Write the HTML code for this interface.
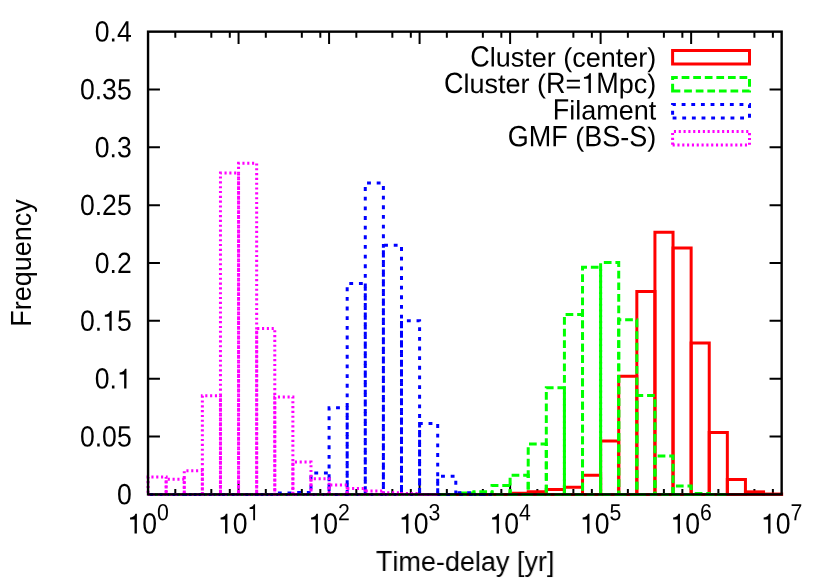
<!DOCTYPE html>
<html><head><meta charset="utf-8"><title>Time-delay histogram</title>
<style>
html,body{margin:0;padding:0;background:#fff;}
svg{display:block;}
text{font-family:"Liberation Sans",sans-serif;fill:#000;font-kerning:none;}
</style></head><body>
<svg width="830" height="581" viewBox="0 0 830 581">
<rect x="0" y="0" width="830" height="581" fill="#ffffff"/>
<path d="M175.30 494.4V489.1M175.30 31.65V37.85M211.32 494.4V489.1M211.32 31.65V37.85M229.79 494.4V489.1M229.79 31.65V37.85M238.56 494.4V483.1M238.56 31.65V43.9M265.81 494.4V489.1M265.81 31.65V37.85M301.83 494.4V489.1M301.83 31.65V37.85M320.31 494.4V489.1M320.31 31.65V37.85M329.08 494.4V483.1M329.08 31.65V43.9M356.33 494.4V489.1M356.33 31.65V37.85M392.35 494.4V489.1M392.35 31.65V37.85M410.82 494.4V489.1M410.82 31.65V37.85M419.59 494.4V483.1M419.59 31.65V43.9M446.84 494.4V489.1M446.84 31.65V37.85M482.86 494.4V489.1M482.86 31.65V37.85M501.34 494.4V489.1M501.34 31.65V37.85M510.11 494.4V483.1M510.11 31.65V43.9M537.35 494.4V489.1M537.35 31.65V37.85M573.37 494.4V489.1M573.37 31.65V37.85M591.85 494.4V489.1M591.85 31.65V37.85M600.62 494.4V483.1M600.62 31.65V43.9M627.87 494.4V489.1M627.87 31.65V37.85M663.89 494.4V489.1M663.89 31.65V37.85M682.36 494.4V489.1M682.36 31.65V37.85M691.14 494.4V483.1M691.14 31.65V43.9M718.38 494.4V489.1M718.38 31.65V37.85M754.40 494.4V489.1M754.40 31.65V37.85M772.88 494.4V489.1M772.88 31.65V37.85M148.05 436.56H159.95M781.65 436.56H769.55M148.05 378.71H159.95M781.65 378.71H769.55M148.05 320.87H159.95M781.65 320.87H769.55M148.05 263.02H159.95M781.65 263.02H769.55M148.05 205.18H159.95M781.65 205.18H769.55M148.05 147.34H159.95M781.65 147.34H769.55M148.05 89.49H159.95M781.65 89.49H769.55" fill="none" stroke="#000" stroke-width="2"/>
<g fill="none" stroke="#ff0000" stroke-width="3" stroke-linejoin="miter" stroke-linecap="butt">
<path d="M148.05 494.40L166.15 494.40L166.15 494.40L148.05 494.40Z"/>
<path d="M166.15 494.40L184.26 494.40L184.26 494.40L166.15 494.40Z"/>
<path d="M184.26 494.40L202.36 494.40L202.36 494.40L184.26 494.40Z"/>
<path d="M202.36 494.40L220.46 494.40L220.46 494.40L202.36 494.40Z"/>
<path d="M220.46 494.40L238.56 494.40L238.56 494.40L220.46 494.40Z"/>
<path d="M238.56 494.40L256.67 494.40L256.67 494.40L238.56 494.40Z"/>
<path d="M256.67 494.40L274.77 494.40L274.77 494.40L256.67 494.40Z"/>
<path d="M274.77 494.40L292.87 494.40L292.87 494.40L274.77 494.40Z"/>
<path d="M292.87 494.40L310.98 494.40L310.98 494.40L292.87 494.40Z"/>
<path d="M310.98 494.40L329.08 494.40L329.08 494.40L310.98 494.40Z"/>
<path d="M329.08 494.40L347.18 494.40L347.18 494.40L329.08 494.40Z"/>
<path d="M347.18 494.40L365.28 494.40L365.28 494.40L347.18 494.40Z"/>
<path d="M365.28 494.40L383.39 494.40L383.39 494.40L365.28 494.40Z"/>
<path d="M383.39 494.40L401.49 494.40L401.49 494.40L383.39 494.40Z"/>
<path d="M401.49 494.40L419.59 494.40L419.59 494.40L401.49 494.40Z"/>
<path d="M419.59 494.40L437.70 494.40L437.70 494.40L419.59 494.40Z"/>
<path d="M437.70 494.40L455.80 494.40L455.80 494.40L437.70 494.40Z"/>
<path d="M455.80 494.40L473.90 494.40L473.90 494.40L455.80 494.40Z"/>
<path d="M473.90 494.40L492.00 494.40L492.00 494.40L473.90 494.40Z"/>
<path d="M492.00 494.40L510.11 494.40L510.11 494.40L492.00 494.40Z"/>
<path d="M510.11 494.40L528.21 494.40L528.21 493.24L510.11 493.24Z"/>
<path d="M528.21 494.40L546.31 494.40L546.31 491.74L528.21 491.74Z"/>
<path d="M546.31 494.40L564.42 494.40L564.42 489.43L546.31 489.43Z"/>
<path d="M564.42 494.40L582.52 494.40L582.52 487.23L564.42 487.23Z"/>
<path d="M582.52 494.40L600.62 494.40L600.62 475.31L582.52 475.31Z"/>
<path d="M600.62 494.40L618.72 494.40L618.72 440.95L600.62 440.95Z"/>
<path d="M618.72 494.40L636.83 494.40L636.83 376.17L618.72 376.17Z"/>
<path d="M636.83 494.40L654.93 494.40L654.93 291.48L636.83 291.48Z"/>
<path d="M654.93 494.40L673.03 494.40L673.03 232.37L654.93 232.37Z"/>
<path d="M673.03 494.40L691.14 494.40L691.14 248.10L673.03 248.10Z"/>
<path d="M691.14 494.40L709.24 494.40L709.24 343.08L691.14 343.08Z"/>
<path d="M709.24 494.40L727.34 494.40L727.34 432.51L709.24 432.51Z"/>
<path d="M727.34 494.40L745.44 494.40L745.44 479.59L727.34 479.59Z"/>
<path d="M745.44 494.40L763.55 494.40L763.55 491.85L745.44 491.85Z"/>
<path d="M763.55 494.40L781.65 494.40L781.65 494.05L763.55 494.05Z"/>
</g>
<g fill="none" stroke="#00ff00" stroke-width="3" stroke-linejoin="miter" stroke-linecap="butt" stroke-dasharray="7.72 3.86">
<path stroke-dashoffset="0.00" d="M148.05 494.40L166.15 494.40L166.15 494.40L148.05 494.40Z"/>
<path stroke-dashoffset="11.31" d="M166.15 494.40L184.26 494.40L184.26 494.40L166.15 494.40Z"/>
<path stroke-dashoffset="0.00" d="M184.26 494.40L202.36 494.40L202.36 494.40L184.26 494.40Z"/>
<path stroke-dashoffset="11.31" d="M202.36 494.40L220.46 494.40L220.46 494.40L202.36 494.40Z"/>
<path stroke-dashoffset="0.00" d="M220.46 494.40L238.56 494.40L238.56 494.40L220.46 494.40Z"/>
<path stroke-dashoffset="11.31" d="M238.56 494.40L256.67 494.40L256.67 494.40L238.56 494.40Z"/>
<path stroke-dashoffset="0.00" d="M256.67 494.40L274.77 494.40L274.77 494.40L256.67 494.40Z"/>
<path stroke-dashoffset="11.31" d="M274.77 494.40L292.87 494.40L292.87 494.40L274.77 494.40Z"/>
<path stroke-dashoffset="0.00" d="M292.87 494.40L310.98 494.40L310.98 494.40L292.87 494.40Z"/>
<path stroke-dashoffset="11.31" d="M310.98 494.40L329.08 494.40L329.08 494.40L310.98 494.40Z"/>
<path stroke-dashoffset="0.00" d="M329.08 494.40L347.18 494.40L347.18 494.40L329.08 494.40Z"/>
<path stroke-dashoffset="11.31" d="M347.18 494.40L365.28 494.40L365.28 494.40L347.18 494.40Z"/>
<path stroke-dashoffset="0.00" d="M365.28 494.40L383.39 494.40L383.39 494.40L365.28 494.40Z"/>
<path stroke-dashoffset="11.31" d="M383.39 494.40L401.49 494.40L401.49 494.40L383.39 494.40Z"/>
<path stroke-dashoffset="0.00" d="M401.49 494.40L419.59 494.40L419.59 494.40L401.49 494.40Z"/>
<path stroke-dashoffset="11.31" d="M419.59 494.40L437.70 494.40L437.70 494.40L419.59 494.40Z"/>
<path stroke-dashoffset="0.00" d="M437.70 494.40L455.80 494.40L455.80 494.40L437.70 494.40Z"/>
<path stroke-dashoffset="8.53" d="M455.80 494.40L473.90 494.40L473.90 493.01L455.80 493.01Z"/>
<path stroke-dashoffset="9.03" d="M473.90 494.40L492.00 494.40L492.00 491.74L473.90 491.74Z"/>
<path stroke-dashoffset="7.62" d="M492.00 494.40L510.11 494.40L510.11 485.49L492.00 485.49Z"/>
<path stroke-dashoffset="0.25" d="M510.11 494.40L528.21 494.40L528.21 475.31L510.11 475.31Z"/>
<path stroke-dashoffset="3.05" d="M528.21 494.40L546.31 494.40L546.31 444.08L528.21 444.08Z"/>
<path stroke-dashoffset="3.37" d="M546.31 494.40L564.42 494.40L564.42 387.74L546.31 387.74Z"/>
<path stroke-dashoffset="1.11" d="M564.42 494.40L582.52 494.40L582.52 314.39L564.42 314.39Z"/>
<path stroke-dashoffset="7.40" d="M582.52 494.40L600.62 494.40L600.62 267.19L582.52 267.19Z"/>
<path stroke-dashoffset="9.22" d="M600.62 494.40L618.72 494.40L618.72 262.56L600.62 262.56Z"/>
<path stroke-dashoffset="0.11" d="M618.72 494.40L636.83 494.40L636.83 319.71L618.72 319.71Z"/>
<path stroke-dashoffset="10.23" d="M636.83 494.40L654.93 494.40L654.93 395.49L636.83 395.49Z"/>
<path stroke-dashoffset="5.32" d="M654.93 494.40L673.03 494.40L673.03 455.99L654.93 455.99Z"/>
<path stroke-dashoffset="0.68" d="M673.03 494.40L691.14 494.40L691.14 485.95L673.03 485.95Z"/>
<path stroke-dashoffset="9.01" d="M691.14 494.40L709.24 494.40L709.24 493.59L691.14 493.59Z"/>
<path stroke-dashoffset="2.30" d="M709.24 494.40L727.34 494.40L727.34 494.40L709.24 494.40Z"/>
</g>
<g fill="none" stroke="#0000ff" stroke-width="3" stroke-linejoin="miter" stroke-linecap="butt" stroke-dasharray="3.86 5.79">
<path stroke-dashoffset="0.00" d="M148.05 494.40L166.15 494.40L166.15 494.40L148.05 494.40Z"/>
<path stroke-dashoffset="1.10" d="M166.15 494.40L184.26 494.40L184.26 494.40L166.15 494.40Z"/>
<path stroke-dashoffset="0.00" d="M184.26 494.40L202.36 494.40L202.36 494.40L184.26 494.40Z"/>
<path stroke-dashoffset="1.10" d="M202.36 494.40L220.46 494.40L220.46 494.40L202.36 494.40Z"/>
<path stroke-dashoffset="0.00" d="M220.46 494.40L238.56 494.40L238.56 494.40L220.46 494.40Z"/>
<path stroke-dashoffset="1.10" d="M238.56 494.40L256.67 494.40L256.67 494.40L238.56 494.40Z"/>
<path stroke-dashoffset="0.00" d="M256.67 494.40L274.77 494.40L274.77 494.40L256.67 494.40Z"/>
<path stroke-dashoffset="7.97" d="M274.77 494.40L292.87 494.40L292.87 493.01L274.77 493.01Z"/>
<path stroke-dashoffset="8.72" d="M292.87 494.40L310.98 494.40L310.98 492.55L292.87 492.55Z"/>
<path stroke-dashoffset="7.47" d="M310.98 494.40L329.08 494.40L329.08 473.00L310.98 473.00Z"/>
<path stroke-dashoffset="3.91" d="M329.08 494.40L347.18 494.40L347.18 407.87L329.08 407.87Z"/>
<path stroke-dashoffset="0.23" d="M347.18 494.40L365.28 494.40L365.28 283.62L347.18 283.62Z"/>
<path stroke-dashoffset="5.50" d="M365.28 494.40L383.39 494.40L383.39 183.08L365.28 183.08Z"/>
<path stroke-dashoffset="8.67" d="M383.39 494.40L401.49 494.40L401.49 245.21L383.39 245.21Z"/>
<path stroke-dashoffset="1.95" d="M401.49 494.40L419.59 494.40L419.59 320.64L401.49 320.64Z"/>
<path stroke-dashoffset="2.30" d="M419.59 494.40L437.70 494.40L437.70 423.60L419.59 423.60Z"/>
<path stroke-dashoffset="1.08" d="M437.70 494.40L455.80 494.40L455.80 476.24L437.70 476.24Z"/>
<path stroke-dashoffset="6.20" d="M455.80 494.40L473.90 494.40L473.90 492.66L455.80 492.66Z"/>
<path stroke-dashoffset="4.55" d="M473.90 494.40L492.00 494.40L492.00 494.40L473.90 494.40Z"/>
</g>
<g fill="none" stroke="#ff00ff" stroke-width="3" stroke-linejoin="miter" stroke-linecap="butt" stroke-dasharray="2.12 2.70">
<path stroke-dashoffset="0.00" d="M148.05 494.40L166.15 494.40L166.15 476.93L148.05 476.93Z"/>
<path stroke-dashoffset="0.53" d="M166.15 494.40L184.26 494.40L184.26 479.24L166.15 479.24Z"/>
<path stroke-dashoffset="2.18" d="M184.26 494.40L202.36 494.40L202.36 470.68L184.26 470.68Z"/>
<path stroke-dashoffset="0.40" d="M202.36 494.40L220.46 494.40L220.46 395.83L202.36 395.83Z"/>
<path stroke-dashoffset="0.45" d="M220.46 494.40L238.56 494.40L238.56 173.02L220.46 173.02Z"/>
<path stroke-dashoffset="0.04" d="M238.56 494.40L256.67 494.40L256.67 163.19L238.56 163.19Z"/>
<path stroke-dashoffset="2.98" d="M256.67 494.40L274.77 494.40L274.77 328.50L256.67 328.50Z"/>
<path stroke-dashoffset="1.68" d="M274.77 494.40L292.87 494.40L292.87 396.88L274.77 396.88Z"/>
<path stroke-dashoffset="2.97" d="M292.87 494.40L310.98 494.40L310.98 462.01L292.87 462.01Z"/>
<path stroke-dashoffset="1.22" d="M310.98 494.40L329.08 494.40L329.08 478.67L310.98 478.67Z"/>
<path stroke-dashoffset="0.99" d="M329.08 494.40L347.18 494.40L347.18 484.91L329.08 484.91Z"/>
<path stroke-dashoffset="3.34" d="M347.18 494.40L365.28 494.40L365.28 488.38L347.18 488.38Z"/>
<path stroke-dashoffset="1.49" d="M365.28 494.40L383.39 494.40L383.39 491.05L365.28 491.05Z"/>
<path stroke-dashoffset="1.75" d="M383.39 494.40L401.49 494.40L401.49 492.66L383.39 492.66Z"/>
<path stroke-dashoffset="3.11" d="M401.49 494.40L419.59 494.40L419.59 493.47L401.49 493.47Z"/>
<path stroke-dashoffset="3.60" d="M419.59 494.40L437.70 494.40L437.70 494.40L419.59 494.40Z"/>
</g>
<rect x="148.05" y="31.65" width="633.60" height="462.75" fill="none" stroke="#000" stroke-width="2.4"/>
<path fill="none" stroke="#ff0000" stroke-width="3" d="M672.6 64.10L749.5 64.10L749.5 50.60L672.6 50.60Z"/>
<path fill="none" stroke="#00ff00" stroke-width="3" stroke-dasharray="7.72 3.86" d="M672.6 90.90L749.5 90.90L749.5 77.40L672.6 77.40Z"/>
<path fill="none" stroke="#0000ff" stroke-width="3" stroke-dasharray="3.86 5.79" d="M672.6 117.95L749.5 117.95L749.5 104.45L672.6 104.45Z"/>
<path fill="none" stroke="#ff00ff" stroke-width="3" stroke-dasharray="2.12 2.70" d="M672.6 145.05L749.5 145.05L749.5 131.55L672.6 131.55Z"/>
<g style="filter:grayscale(1)">
<g transform="translate(131.70 504.30) rotate(0.03)"><text transform="translate(-14.79 0) scale(0.985 1.085)" font-size="27">0</text></g>
<g transform="translate(131.70 446.46) rotate(0.03)"><text transform="translate(-51.76 0) scale(0.985 1.085)" font-size="27">0</text><text transform="translate(-36.97 0) scale(0.985 1.0)" font-size="27">.</text><text transform="translate(-29.58 0) scale(0.985 1.085)" font-size="27">05</text></g>
<g transform="translate(131.70 388.61) rotate(0.03)"><text transform="translate(-36.97 0) scale(0.985 1.085)" font-size="27">0</text><text transform="translate(-22.18 0) scale(0.985 1.0)" font-size="27">.</text><path transform="translate(-14.79 0) scale(0.02660 -0.02794)" d="M359 0H271V505H102V572C185 575 275 615 303 709H359Z"/></g>
<g transform="translate(131.70 330.77) rotate(0.03)"><text transform="translate(-51.76 0) scale(0.985 1.085)" font-size="27">0</text><text transform="translate(-36.97 0) scale(0.985 1.0)" font-size="27">.</text><path transform="translate(-29.58 0) scale(0.02660 -0.02794)" d="M359 0H271V505H102V572C185 575 275 615 303 709H359Z"/><text transform="translate(-14.79 0) scale(0.985 1.085)" font-size="27">5</text></g>
<g transform="translate(131.70 272.92) rotate(0.03)"><text transform="translate(-36.97 0) scale(0.985 1.085)" font-size="27">0</text><text transform="translate(-22.18 0) scale(0.985 1.0)" font-size="27">.</text><text transform="translate(-14.79 0) scale(0.985 1.085)" font-size="27">2</text></g>
<g transform="translate(131.70 215.08) rotate(0.03)"><text transform="translate(-51.76 0) scale(0.985 1.085)" font-size="27">0</text><text transform="translate(-36.97 0) scale(0.985 1.0)" font-size="27">.</text><text transform="translate(-29.58 0) scale(0.985 1.085)" font-size="27">25</text></g>
<g transform="translate(131.70 157.24) rotate(0.03)"><text transform="translate(-36.97 0) scale(0.985 1.085)" font-size="27">0</text><text transform="translate(-22.18 0) scale(0.985 1.0)" font-size="27">.</text><text transform="translate(-14.79 0) scale(0.985 1.085)" font-size="27">3</text></g>
<g transform="translate(131.70 99.39) rotate(0.03)"><text transform="translate(-51.76 0) scale(0.985 1.085)" font-size="27">0</text><text transform="translate(-36.97 0) scale(0.985 1.0)" font-size="27">.</text><text transform="translate(-29.58 0) scale(0.985 1.085)" font-size="27">35</text></g>
<g transform="translate(131.70 41.55) rotate(0.03)"><text transform="translate(-36.97 0) scale(0.985 1.085)" font-size="27">0</text><text transform="translate(-22.18 0) scale(0.985 1.0)" font-size="27">.</text><text transform="translate(-14.79 0) scale(0.985 1.085)" font-size="27">4</text></g>
<g transform="translate(127.34 533.50) rotate(0.03)"><path transform="translate(0.00 0) scale(0.02660 -0.02794)" d="M359 0H271V505H102V572C185 575 275 615 303 709H359Z"/><text transform="translate(14.79 0) scale(0.985 1.085)" font-size="27">0</text></g>
<g transform="translate(156.92 520.20) rotate(0.03)"><text transform="translate(0.00 0) scale(0.985 1.085)" font-size="21.6">0</text></g>
<g transform="translate(217.86 533.50) rotate(0.03)"><path transform="translate(0.00 0) scale(0.02660 -0.02794)" d="M359 0H271V505H102V572C185 575 275 615 303 709H359Z"/><text transform="translate(14.79 0) scale(0.985 1.085)" font-size="27">0</text></g>
<g transform="translate(247.44 520.20) rotate(0.03)"><path transform="translate(0.00 0) scale(0.02128 -0.02236)" d="M359 0H271V505H102V572C185 575 275 615 303 709H359Z"/></g>
<g transform="translate(308.37 533.50) rotate(0.03)"><path transform="translate(0.00 0) scale(0.02660 -0.02794)" d="M359 0H271V505H102V572C185 575 275 615 303 709H359Z"/><text transform="translate(14.79 0) scale(0.985 1.085)" font-size="27">0</text></g>
<g transform="translate(337.95 520.20) rotate(0.03)"><text transform="translate(0.00 0) scale(0.985 1.085)" font-size="21.6">2</text></g>
<g transform="translate(398.89 533.50) rotate(0.03)"><path transform="translate(0.00 0) scale(0.02660 -0.02794)" d="M359 0H271V505H102V572C185 575 275 615 303 709H359Z"/><text transform="translate(14.79 0) scale(0.985 1.085)" font-size="27">0</text></g>
<g transform="translate(428.47 520.20) rotate(0.03)"><text transform="translate(0.00 0) scale(0.985 1.085)" font-size="21.6">3</text></g>
<g transform="translate(489.40 533.50) rotate(0.03)"><path transform="translate(0.00 0) scale(0.02660 -0.02794)" d="M359 0H271V505H102V572C185 575 275 615 303 709H359Z"/><text transform="translate(14.79 0) scale(0.985 1.085)" font-size="27">0</text></g>
<g transform="translate(518.98 520.20) rotate(0.03)"><text transform="translate(0.00 0) scale(0.985 1.085)" font-size="21.6">4</text></g>
<g transform="translate(579.91 533.50) rotate(0.03)"><path transform="translate(0.00 0) scale(0.02660 -0.02794)" d="M359 0H271V505H102V572C185 575 275 615 303 709H359Z"/><text transform="translate(14.79 0) scale(0.985 1.085)" font-size="27">0</text></g>
<g transform="translate(609.50 520.20) rotate(0.03)"><text transform="translate(0.00 0) scale(0.985 1.085)" font-size="21.6">5</text></g>
<g transform="translate(670.43 533.50) rotate(0.03)"><path transform="translate(0.00 0) scale(0.02660 -0.02794)" d="M359 0H271V505H102V572C185 575 275 615 303 709H359Z"/><text transform="translate(14.79 0) scale(0.985 1.085)" font-size="27">0</text></g>
<g transform="translate(700.01 520.20) rotate(0.03)"><text transform="translate(0.00 0) scale(0.985 1.085)" font-size="21.6">6</text></g>
<g transform="translate(760.94 533.50) rotate(0.03)"><path transform="translate(0.00 0) scale(0.02660 -0.02794)" d="M359 0H271V505H102V572C185 575 275 615 303 709H359Z"/><text transform="translate(14.79 0) scale(0.985 1.085)" font-size="27">0</text></g>
<g transform="translate(790.52 520.20) rotate(0.03)"><text transform="translate(0.00 0) scale(0.985 1.085)" font-size="21.6">7</text></g>
<g transform="translate(465.20 571.00) rotate(0.03)"><text transform="translate(-89.27 0) scale(1.0 1.085)" font-size="27">T</text><text transform="translate(-72.77 0) scale(1.0 1.0)" font-size="27">ime-delay</text><text transform="translate(51.77 0) scale(1.0 1.0)" font-size="27">[yr]</text></g>
<g transform="translate(31.00 263.00) rotate(-89.97)"><text transform="translate(-63.78 0) scale(1.0 1.085)" font-size="27">F</text><text transform="translate(-47.29 0) scale(1.0 1.0)" font-size="27">requency</text></g>
<g transform="translate(656.20 66.70) rotate(0.03)"><text transform="translate(-186.05 0) scale(1.0 1.085)" font-size="27">C</text><text transform="translate(-166.55 0) scale(1.0 1.0)" font-size="27">luster</text><text transform="translate(-93.02 0) scale(1.0 1.0)" font-size="27">(center)</text></g>
<g transform="translate(656.20 93.00) rotate(0.03)"><text transform="translate(-212.30 0) scale(1.0 1.085)" font-size="27">C</text><text transform="translate(-192.80 0) scale(1.0 1.0)" font-size="27">luster</text><text transform="translate(-119.27 0) scale(1.0 1.0)" font-size="27">(</text><text transform="translate(-110.28 0) scale(1.0 1.085)" font-size="27">R</text><text transform="translate(-90.78 0) scale(1.0 1.0)" font-size="27">=</text><path transform="translate(-75.01 0) scale(0.02700 -0.02794)" d="M359 0H271V505H102V572C185 575 275 615 303 709H359Z"/><text transform="translate(-60.00 0) scale(1.0 1.085)" font-size="27">M</text><text transform="translate(-37.51 0) scale(1.0 1.0)" font-size="27">pc)</text></g>
<g transform="translate(656.20 119.50) rotate(0.03)"><text transform="translate(-103.53 0) scale(1.0 1.085)" font-size="27">F</text><text transform="translate(-87.04 0) scale(1.0 1.0)" font-size="27">ilament</text></g>
<g transform="translate(656.20 146.30) rotate(0.03)"><text transform="translate(-148.49 0) scale(1.0 1.085)" font-size="27">GMF</text><text transform="translate(-81.00 0) scale(1.0 1.0)" font-size="27">(</text><text transform="translate(-72.01 0) scale(1.0 1.085)" font-size="27">BS</text><text transform="translate(-35.99 0) scale(1.0 1.0)" font-size="27">-</text><text transform="translate(-27.00 0) scale(1.0 1.085)" font-size="27">S</text><text transform="translate(-8.99 0) scale(1.0 1.0)" font-size="27">)</text></g>
</g>
</svg></body></html>
